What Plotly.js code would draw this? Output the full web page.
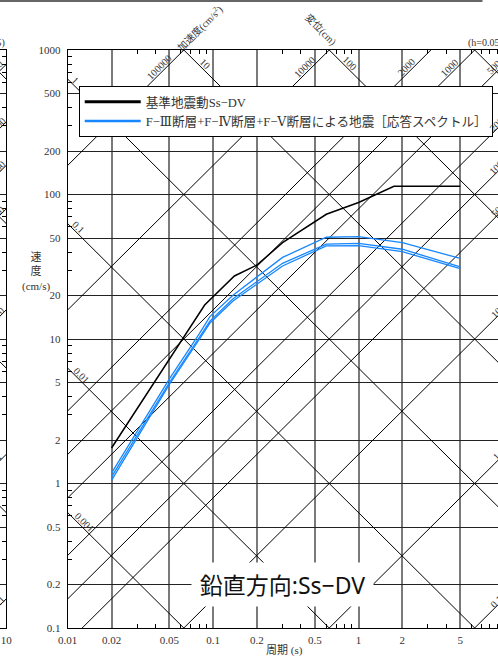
<!DOCTYPE html>
<html><head><meta charset="utf-8">
<script src="https://cdn.plot.ly/plotly-3.0.1.min.js"></script>
<style>
html,body{margin:0;padding:0;overflow:hidden;width:498px;height:656px;background:#fff}
#wrap{position:absolute;left:-490px;top:0}
</style></head>
<body><div id="wrap"><div id="chart"></div></div>
<script>
// ---- axis ticks ----
const periodTicks=[0.01,0.02,0.05,0.1,0.2,0.5,1,2,5,10];
const periodTickText=['0.01','0.02','0.05','0.1','0.2','0.5','1','2','5','10'];
const velTicks=[0.1,0.2,0.5,1,2,5,10,20,50,100,200,500,1000];
const velTickText=['0.1','0.2','0.5','1','2','5','10','20','50','100','200','500','1000'];
const minorMult=[3,4,6,7,8,9];
const periodDecades=[0.01,0.1,1];
const velDecades=[0.1,1,10,100];

// ---- tripartite guide values ----
const accelLines=[100000,10000,2000,1000,500,200,100,50,10,1,0.1];   // cm/s^2
const dispLines=[1000,100,10,1,0.1,0.01,0.001];                      // cm
const accelTopLabels=['100000','10000','2000','1000','500'];
const accelRightLabels=['200','100','50','10','1','0.1'];
const dispTopLabels=['10','100'];
const dispLeftLabels=['1','0.1','0.01','0.001'];
const dispLeftLabelT=[0.01135,0.0119,0.01248,0.01309];

// ---- spectra (period s, velocity cm/s) ----
const ssT=[0.02,0.0874,0.14,0.2,0.3,0.6,1.0,1.75,5.0];
const ssV=[1.76,17.2,27.3,32.5,46.4,73,88,114,114];
const fT=[0.02,0.05,0.08,0.095,0.137,0.2,0.3,0.6,1.0,2.0,5.0];
const fV1=[1.18,5.3,10.8,14.3,20.1,26.9,36.7,50.6,51.1,46.4,36.1];
const fV2=[1.11,5.0,10.2,13.3,19.0,24.8,33.4,45.4,45.9,41.8,31.6];
const fV3=[1.05,4.85,9.9,12.9,18.3,24.0,32.0,44.1,44.3,40.2,30.7];

const nameSs='基準地震動Ss−DV';
const nameF='F−Ⅲ断層+F−Ⅳ断層+F−Ⅴ断層による地震［応答スペクトル］';
const titleText='鉛直方向:Ss−DV';

const blue='#1787ff';
const serif='Liberation Serif, DejaVu Serif, Noto Sans CJK JP';
const TW=2*Math.PI;
const tSpan=[0.0005,200];

function minors(decs){const o=[];decs.forEach(d=>minorMult.forEach(m=>o.push(d*m)));return o;}
const minorX=minors(periodDecades), minorY=minors(velDecades);

function diagTraces(xa,ya){
  const tr=[];
  accelLines.forEach(a=>tr.push({x:tSpan,y:tSpan.map(t=>a*t/TW),xaxis:xa,yaxis:ya,mode:'lines',
    line:{color:'#000',width:1},hoverinfo:'skip',showlegend:false}));
  dispLines.forEach(d=>tr.push({x:tSpan,y:tSpan.map(t=>TW*d/t),xaxis:xa,yaxis:ya,mode:'lines',
    line:{color:'#000',width:1},hoverinfo:'skip',showlegend:false}));
  return tr;
}
const labFont={family:serif,size:10,color:'#333'};
const C={showarrow:false,xanchor:'center',yanchor:'middle'};
function diagLabels(xr,yr){
  const out=[];
  const vTop=671;
  accelTopLabels.forEach(s=>{const t=TW*vTop/(+s);
    out.push(Object.assign({xref:xr,yref:yr,x:Math.log10(t),y:Math.log10(vTop),text:s,textangle:-45,yshift:8,font:labFont},C));});
  const tR=8.88;
  accelRightLabels.forEach(s=>{
    out.push(Object.assign({xref:xr,yref:yr,x:Math.log10(tR),y:Math.log10((+s)*tR/TW),text:s,textangle:-45,yshift:5,font:labFont},C));});
  const vD=720;
  dispTopLabels.forEach(s=>{const t=TW*(+s)/vD;
    out.push(Object.assign({xref:xr,yref:yr,x:Math.log10(t),y:Math.log10(vD),text:s,textangle:45,yshift:7,font:labFont},C));});
  dispLeftLabels.forEach((s,i)=>{const t=dispLeftLabelT[i];
    out.push(Object.assign({xref:xr,yref:yr,x:Math.log10(t),y:Math.log10(TW*(+s)/t),text:s,textangle:45,yshift:7,font:labFont},C));});
  out.push({xref:xr+' domain',yref:yr+' domain',x:0.9118,y:1.0121,xanchor:'left',yanchor:'middle',text:'(h=0.05)',showarrow:false,font:labFont});
  return out;
}

const tickFont={family:serif,size:11,color:'#333'};
function axX(domain,anchor){return {type:'log',range:[-2,1],domain:domain,anchor:anchor,tickmode:'array',
  tickvals:periodTicks,ticktext:periodTickText,ticks:'',showgrid:true,gridcolor:'#7a7a7a',gridwidth:2,
  showline:true,linecolor:'#000',linewidth:1,mirror:'ticks',zeroline:false,tickfont:tickFont,fixedrange:true,
  ticklabelstandoff:2,
  minor:{tickvals:minorX,ticks:'inside',ticklen:4,tickcolor:'#000',tickwidth:1,showgrid:false}};}
function axY(anchor){return {type:'log',range:[-1,3],domain:[0,1],anchor:anchor,tickmode:'array',
  tickvals:velTicks,ticktext:velTickText,ticks:'',showgrid:true,gridcolor:'#222',gridwidth:1,
  showline:true,linecolor:'#000',linewidth:1,mirror:'ticks',zeroline:false,tickfont:tickFont,fixedrange:true,
  ticklabelstandoff:4,
  minor:{tickvals:minorY,ticks:'inside',ticklen:4,tickcolor:'#000',tickwidth:1,showgrid:false}};}

const data=[].concat(diagTraces('x2','y2'),diagTraces('x','y'));
[fV1,fV2,fV3].forEach(v=>data.push({x:fT,y:v,mode:'lines',line:{color:blue,width:1.3},xaxis:'x',yaxis:'y',showlegend:false,hoverinfo:'skip'}));
data.push({x:ssT,y:ssV,mode:'lines',line:{color:'#000',width:1.5},xaxis:'x',yaxis:'y',showlegend:false,hoverinfo:'skip'});
// legend entries (single point in lines mode -> nothing drawn in plot)
data.push({x:[ssT[ssT.length-1]],y:[ssV[ssV.length-1]],mode:'lines',line:{color:'#000',width:3},name:nameSs,xaxis:'x',yaxis:'y',showlegend:true});
data.push({x:[fT[fT.length-1]],y:[fV1[fV1.length-1]],mode:'lines',line:{color:blue,width:2.5},name:nameF,xaxis:'x',yaxis:'y',showlegend:true});

const ann=[].concat(diagLabels('x2','y2'),diagLabels('x','y'));
const axFont={family:serif,size:11,color:'#333'};
const hdrFont={family:serif,size:10,color:'#333'};
ann.push(Object.assign({xref:'x domain',yref:'y domain',x:(200-68)/436.5,y:1+22/578,text:'加速度(cm/s<sup>2</sup>)',textangle:-45,font:hdrFont},C));
ann.push(Object.assign({xref:'x domain',yref:'y domain',x:(321-68)/436.5,y:1+20/578,text:'変位(cm)',textangle:45,font:hdrFont},C));
ann.push(Object.assign({xref:'x domain',yref:'y domain',x:(36-68)/436.5,y:1-(272-50)/578,text:'速<br>度<br>(cm/s)',font:axFont},C));
ann.push(Object.assign({xref:'x domain',yref:'y domain',x:(285-68)/436.5,y:1-(650-50)/578,text:'周期 (s)',font:axFont},C));
ann.push(Object.assign({xref:'x domain',yref:'y domain',x:(282.5-68)/436.5,y:1-(584.5-50)/578,text:titleText,
  bgcolor:'#fff',width:167,height:29,borderpad:7,font:{family:'Noto Sans, Noto Sans CJK JP',size:23,color:'#111'}},C));

const shapes=[{type:'line',xref:'x domain',yref:'y domain',x0:-68/436.5,x1:(483-68)/436.5,y0:1+49/578,y1:1+49/578,line:{color:'#666',width:2}}];

const layout={width:1035,height:656,margin:{l:60,r:40.5,t:50,b:28},paper_bgcolor:'#fff',plot_bgcolor:'#fff',
  showlegend:true,
  legend:{x:509/934.5,y:1-36/578,xanchor:'left',yanchor:'top',bgcolor:'#fff',bordercolor:'#000',borderwidth:1,
    font:{family:serif,size:12.6,color:'#333'},itemwidth:56,tracegroupgap:0},
  xaxis:axX([498/934.5,1],'y'),yaxis:axY('x'),
  xaxis2:axX([0,436.5/934.5],'y2'),yaxis2:axY('x2'),
  annotations:ann,shapes:shapes};
Plotly.newPlot('chart',data,layout,{staticPlot:true,displayModeBar:false});
</script></body></html>
